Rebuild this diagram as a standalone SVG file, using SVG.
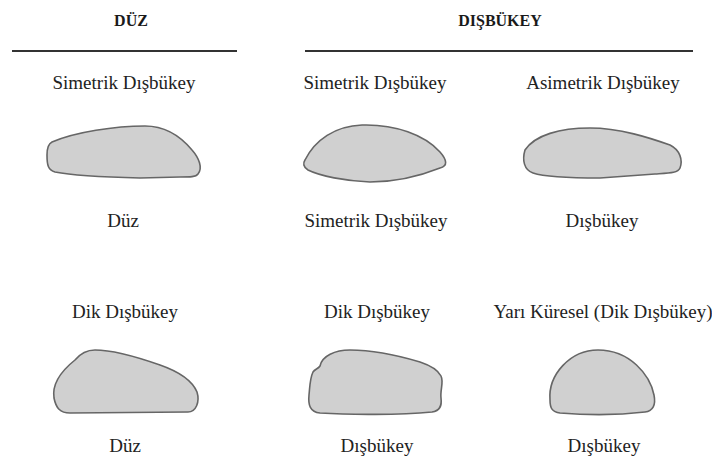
<svg xmlns="http://www.w3.org/2000/svg" width="712" height="461" viewBox="0 0 712 461">
  <style>
    .head { font-family: "Liberation Serif", "DejaVu Serif", serif; font-size: 16px; font-weight: bold; fill: #1a1a1a; text-anchor: middle; }
    .lbl { font-family: "Liberation Serif", "DejaVu Serif", serif; font-size: 19px; fill: #222; text-anchor: middle; }
    .rule { stroke: #333; stroke-width: 2; }
    .shape { fill: #d0d0d0; stroke: #666; stroke-width: 1.6; stroke-linejoin: round; }
  </style>
  <rect width="712" height="461" fill="#ffffff"/>

  <!-- column headers -->
  <g id="header-duz">
    <text class="head" x="131" y="26">DÜZ</text>
    <line class="rule" x1="12" y1="51" x2="237" y2="51"/>
  </g>
  <g id="header-disbukey">
    <text class="head" x="500" y="26">DIŞBÜKEY</text>
    <line class="rule" x1="305" y1="51" x2="693" y2="51"/>
  </g>

  <!-- row 1 -->
  <g id="flat-symmetric">
    <text class="lbl" x="124" y="89">Simetrik Dışbükey</text>
    <path class="shape" d="M 52,142 C 75,132 115,126 145,126 C 168,126 182,138 192,150 C 199,158 203,168 198,174 C 196,177 190,177 180,177 L 140,178 C 100,177 70,175 55,172 C 48,170 47,165 47,155 C 47,148 48,144 52,142 Z"/>
    <text class="lbl" x="123" y="227">Düz</text>
  </g>
  <g id="convex-symmetric">
    <text class="lbl" x="375" y="89">Simetrik Dışbükey</text>
    <path class="shape" d="M 305,160 C 315,140 335,126 362,125 C 395,124 425,135 440,152 C 447,160 448,166 440,168 C 420,176 395,182 370,182 C 345,181 320,176 308,170 C 303,167 303,163 305,160 Z"/>
    <text class="lbl" x="376" y="227">Simetrik Dışbükey</text>
  </g>
  <g id="convex-asymmetric">
    <text class="lbl" x="603" y="89">Asimetrik Dışbükey</text>
    <path class="shape" d="M 525,150 C 535,135 560,128 590,128 C 620,128 650,138 670,145 C 680,150 683,160 680,168 C 678,173 670,173 655,174 L 600,178 C 570,178 545,177 533,173 C 524,170 522,160 525,150 Z"/>
    <text class="lbl" x="602" y="227">Dışbükey</text>
  </g>

  <!-- row 2 -->
  <g id="flat-steep">
    <text class="lbl" x="125" y="318">Dik Dışbükey</text>
    <path class="shape" d="M 75,360 C 80,354 86,350 95,350 C 115,350 140,358 160,365 C 180,372 192,380 197,392 C 200,402 196,412 188,412 L 70,413 C 60,413 56,408 54,398 C 52,385 60,372 75,360 Z"/>
    <text class="lbl" x="125" y="452">Düz</text>
  </g>
  <g id="convex-steep">
    <text class="lbl" x="377" y="318">Dik Dışbükey</text>
    <path class="shape" d="M 320,366 C 322,356 335,350 350,350 C 375,350 400,356 420,362 C 432,366 438,370 441,376 C 444,382 440,390 441,398 C 442,406 440,411 432,412 C 400,415 350,415 320,413 C 310,412 308,405 309,395 C 310,385 310,378 313,372 C 315,369 318,369 320,366 Z"/>
    <text class="lbl" x="377" y="452">Dışbükey</text>
  </g>
  <g id="hemispherical">
    <text class="lbl" x="603" y="318">Yarı Küresel (Dik Dışbükey)</text>
    <path class="shape" d="M 550,400 C 548,375 570,350 598,350 C 630,350 650,375 654,395 C 656,405 653,411 645,412 C 620,415 585,415 560,413 C 552,412 550,408 550,400 Z"/>
    <text class="lbl" x="604" y="452">Dışbükey</text>
  </g>
</svg>
